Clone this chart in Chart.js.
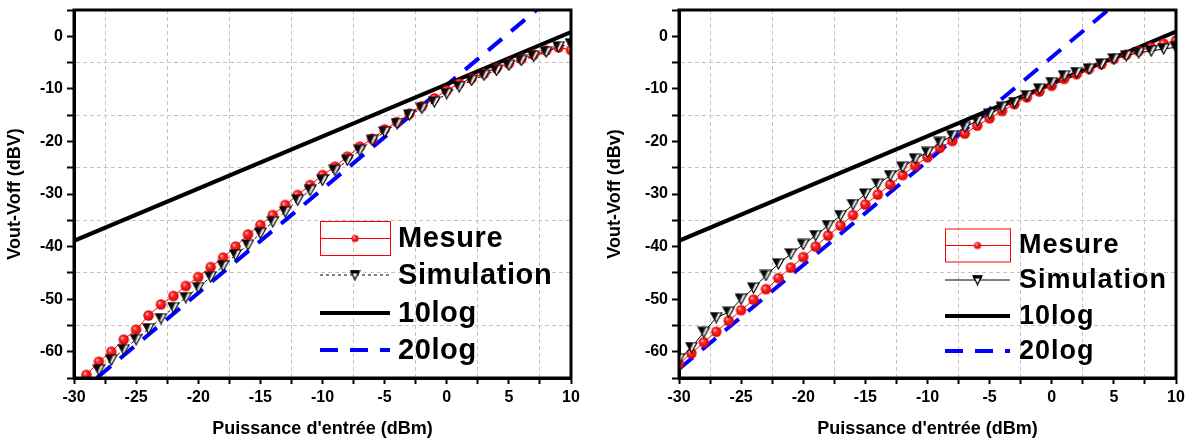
<!DOCTYPE html>
<html><head><meta charset="utf-8">
<script src="https://cdn.jsdelivr.net/npm/chart.js@4.4.1/dist/chart.umd.min.js"></script>
<style>
html,body{margin:0;padding:0;background:#fff;}
#wrap{position:relative;width:1192px;height:439px;background:#fff;overflow:hidden;}
.pane{position:absolute;top:0;height:439px;}
</style></head>
<body>
<div id="wrap">
  <div class="pane" style="left:0;width:600px"><canvas id="c1" width="600" height="439"></canvas></div>
  <div class="pane" style="left:600px;width:592px"><canvas id="c2" width="592" height="439"></canvas></div>
</div>
<script>
// ---------------- DATA ----------------
const xTickLabels = [-30, -25, -20, -15, -10, -5, 0, 5, 10];
const yTickLabels = [-60, -50, -40, -30, -20, -10, 0];

// Left chart
const L_measX = [-29,-28,-27,-26,-25,-24,-23,-22,-21,-20,-19,-18,-17,-16,-15,-14,-13,-12,-11,-10,-9,-8,-7,-6,-5,-4,-3,-2,-1,0,1,2,3,4,5,6,7,8,9,10];
const L_measY = [-64.4,-61.9,-60.0,-57.7,-55.8,-53.1,-51.0,-49.4,-47.5,-45.8,-43.9,-42.1,-40.0,-37.7,-35.9,-34.0,-32.1,-30.2,-28.3,-26.4,-24.8,-22.9,-21.0,-19.5,-17.7,-16.3,-14.7,-13.3,-11.8,-10.3,-9.0,-8.0,-7.1,-6.1,-5.2,-4.3,-3.5,-2.7,-2.1,-2.6];
const L_simX = [-28,-27,-26,-25,-24,-23,-22,-21,-20,-19,-18,-17,-16,-15,-14,-13,-12,-11,-10,-9,-8,-7,-6,-5,-4,-3,-2,-1,0,1,2,3,4,5,6,7,8,9,10];
const L_simY = [-63.5,-61.6,-59.6,-57.7,-55.6,-53.7,-51.6,-49.7,-47.8,-45.8,-43.7,-41.6,-39.7,-37.5,-35.3,-33.4,-31.2,-29.3,-27.4,-25.5,-23.6,-21.7,-19.8,-18.2,-16.6,-15.0,-13.7,-12.5,-10.9,-9.6,-8.4,-7.4,-6.5,-5.5,-4.6,-3.8,-3.0,-2.0,-1.4];
const L_10logX = [-30, 10];
const L_10logY = [-38.9, 0.8];
const L_20logX = [-30, 10];
const L_20logY = [-68.6, 10.5];

// Right chart
const R_measX = [-30,-29,-28,-27,-26,-25,-24,-23,-22,-21,-20,-19,-18,-17,-16,-15,-14,-13,-12,-11,-10,-9,-8,-7,-6,-5,-4,-3,-2,-1,0,1,2,3,4,5,6,7,8,9,10];
const R_measY = [-62.3,-60.3,-58.2,-56.2,-54.1,-52.1,-50.1,-48.1,-46.0,-44.0,-42.0,-40.0,-37.9,-36.0,-34.0,-32.0,-30.1,-28.2,-26.4,-24.6,-23.0,-21.2,-19.9,-18.5,-17.0,-15.6,-14.2,-12.9,-11.6,-10.5,-9.4,-8.1,-7.2,-6.2,-5.3,-4.3,-3.5,-2.8,-2.1,-1.4,-0.8];
const R_simX = [-30,-29,-28,-27,-26,-25,-24,-23,-22,-21,-20,-19,-18,-17,-16,-15,-14,-13,-12,-11,-10,-9,-8,-7,-6,-5,-4,-3,-2,-1,0,1,2,3,4,5,6,7,8,9,10];
const R_simY = [-61.4,-59.2,-56.3,-53.5,-52.5,-50.0,-47.9,-45.5,-43.3,-41.4,-39.6,-37.9,-36.0,-34.1,-32.0,-30.0,-28.1,-26.5,-24.9,-23.3,-22.1,-20.2,-18.9,-17.3,-16.1,-14.8,-13.5,-12.6,-11.3,-10.0,-8.8,-7.5,-6.9,-6.2,-5.3,-4.3,-3.7,-3.1,-2.8,-2.4,-2.1];
const R_10logX = [-30, 10];
const R_10logY = [-38.9, 0.9];
const R_20logX = [-30, 10];
const R_20logY = [-63.3, 15.8];

const labels = ['Mesure', 'Simulation', '10log', '20log'];

// ---------------- HELPERS ----------------
const pts = (xs, ys) => xs.map((x, i) => ({x: x, y: ys[i]}));
const FONT = '"Liberation Sans", Arial, Helvetica, sans-serif';

function makeCircle(r) {
  const s = Math.ceil(2 * r + 2);
  const c = document.createElement('canvas'); c.width = s; c.height = s;
  const g = c.getContext('2d');
  const grd = g.createRadialGradient(s/2 - r*0.35, s/2 - r*0.35, 0.3, s/2, s/2, r);
  grd.addColorStop(0, '#ffc0c0');
  grd.addColorStop(0.35, '#ff2a2a');
  grd.addColorStop(1, '#d80000');
  g.fillStyle = grd;
  g.beginPath(); g.arc(s/2, s/2, r, 0, Math.PI*2); g.fill();
  return c;
}
function makeTri(w, h) {
  const c = document.createElement('canvas'); c.width = w + 2; c.height = h + 2;
  const g = c.getContext('2d');
  const grd = g.createLinearGradient(1, 1, w + 1, h * 0.6);
  grd.addColorStop(0, '#000');
  grd.addColorStop(0.5, '#111');
  grd.addColorStop(0.66, '#fff');
  grd.addColorStop(1, '#fff');
  g.fillStyle = grd;
  g.beginPath(); g.moveTo(1, 1); g.lineTo(w + 1, 1); g.lineTo(w/2 + 1, h + 1); g.closePath();
  g.fill();
  g.lineWidth = 1.2; g.strokeStyle = '#000'; g.stroke();
  return c;
}
function makeLegTri(w, h) {
  const c = document.createElement('canvas'); c.width = w + 2; c.height = h + 2;
  const g = c.getContext('2d');
  g.fillStyle = '#fff';
  g.beginPath(); g.moveTo(1, 1); g.lineTo(w + 1, 1); g.lineTo(w/2 + 1, h + 1); g.closePath();
  g.fill();
  g.lineWidth = 1.3; g.strokeStyle = '#000'; g.stroke();
  g.fillStyle = '#000'; g.fillRect(1, 1, w, 3);
  return c;
}
const circleImg = makeCircle(5.2);
const triImg = makeTri(11, 10);
const legCircle = makeCircle(3.6);
const legTri = makeLegTri(9, 9);

const minorGrid = step => ctx => {
  const v = ctx.tick ? ctx.tick.value : null;
  if (v === null || v === undefined) return 'rgba(0,0,0,0)';
  const k = Math.round(v / step);
  return (Math.abs(k) % 2 === 1) ? '#c4c4c4' : 'rgba(0,0,0,0)';
};

const framePlugin = {
  id: 'frame',
  afterDraw(chart) {
    const {ctx, chartArea: a} = chart;
    ctx.save();
    ctx.lineWidth = 3; ctx.strokeStyle = '#000';
    ctx.strokeRect(a.left, a.top, a.right - a.left, a.bottom - a.top);
    ctx.restore();
  }
};

const legendPlugin = {
  id: 'ovLegend',
  afterDraw(chart, args, o) {
    if (!o || !o.rows) return;
    const ctx = chart.ctx;
    ctx.save();
    o.rows.forEach((row, i) => {
      const ds = chart.data.datasets.find(d => d.label === row);
      const y = o.ys[i];
      const x0 = o.x0, x1 = o.x0 + o.w, xm = (x0 + x1) / 2;
      if (i === 0) {
        ctx.strokeStyle = ds.borderColor; ctx.lineWidth = 1; ctx.setLineDash([]);
        ctx.strokeRect(x0 + 0.5, y - o.boxH/2 + 0.5, o.w, o.boxH);
        ctx.beginPath(); ctx.moveTo(x0, y + 0.5); ctx.lineTo(x1, y + 0.5); ctx.stroke();
        ctx.drawImage(legCircle, xm - legCircle.width/2, y - legCircle.height/2 + 0.5);
      } else {
        ctx.strokeStyle = ds.borderColor; ctx.lineWidth = ds.borderWidth;
        ctx.setLineDash(ds.borderDash || []);
        ctx.lineDashOffset = 0;
        ctx.beginPath(); ctx.moveTo(x0, y); ctx.lineTo(x1, y); ctx.stroke();
        ctx.setLineDash([]);
        if (i === 1) ctx.drawImage(legTri, xm - legTri.width/2, y - legTri.height/2);
      }
      ctx.fillStyle = '#000';
      ctx.font = 'bold ' + o.size + 'px ' + FONT;
      ctx.letterSpacing = o.spacing || '0px';
      ctx.textBaseline = 'middle'; ctx.textAlign = 'left';
      ctx.fillText(row, o.tx, y + 1);
    });
    ctx.restore();
  }
};

function build(canvasId, meas, sim, l10, l20, simDash, yTitle, geo, leg) {
  const datasets = [
    {label: labels[1], data: sim, borderColor: '#000', backgroundColor: '#000', borderWidth: 1,
     borderDash: simDash, pointStyle: triImg, pointRadius: 5, order: 0, showLine: true},
    {label: labels[0], data: meas, borderColor: '#ff0000', backgroundColor: '#ff0000', borderWidth: 1,
     pointStyle: circleImg, pointRadius: 5, order: 1, showLine: true},
    {label: labels[2], data: l10, borderColor: '#000', borderWidth: 4, pointRadius: 0, order: 2, showLine: true},
    {label: labels[3], data: l20, borderColor: '#0000ff', borderWidth: 4, borderDash: [18, 12],
     pointRadius: 0, order: 3, showLine: true}
  ];
  return new Chart(document.getElementById(canvasId), {
    type: 'scatter',
    data: {datasets},
    plugins: [framePlugin, legendPlugin],
    options: {
      responsive: false, animation: false, devicePixelRatio: 1,
      layout: {padding: {top: geo.top, right: geo.right, left: 0, bottom: 0}},
      elements: {line: {tension: 0}},
      plugins: {legend: {display: false}, tooltip: {enabled: false}, ovLegend: leg},
      scales: {
        x: {
          type: 'linear', min: -30, max: 10,
          afterFit: s => { s.height = geo.xh; s.paddingLeft = 0; s.paddingRight = 0; },
          ticks: {stepSize: 2.5, autoSkip: false, maxRotation: 0, color: '#000', padding: 4,
                  font: {family: FONT, size: 16, weight: 'bold'},
                  callback: v => (xTickLabels.includes(v) ? String(v) : '')},
          grid: {color: minorGrid(2.5), lineWidth: 1, borderDash: [4, 3], tickColor: '#000',
                 tickLength: 6, tickWidth: 2, drawTicks: true},
          border: {display: true, color: '#000', width: 3, dash: [4, 3]},
          title: {display: true, text: "Puissance d'entrée (dBm)", color: '#000',
                  font: {family: FONT, size: 18, weight: 'bold'}, padding: {top: 0, bottom: -1}}
        },
        y: {
          type: 'linear', min: -65, max: 5,
          afterFit: s => { s.width = geo.yw; s.paddingTop = 0; s.paddingBottom = 0; },
          ticks: {stepSize: 5, autoSkip: false, color: '#000', padding: 4,
                  font: {family: FONT, size: 16, weight: 'bold'},
                  callback: v => (yTickLabels.includes(v) ? String(v) : '')},
          grid: {color: minorGrid(5), lineWidth: 1, borderDash: [4, 3], tickColor: '#000',
                 tickLength: 7, tickWidth: 2, drawTicks: true},
          border: {display: true, color: '#000', width: 3, dash: [4, 3]},
          title: {display: true, text: yTitle, color: '#000',
                  font: {family: FONT, size: 18, weight: 'bold'}, padding: {top: 4, bottom: 0}}
        }
      }
    }
  });
}

build('c1', pts(L_measX, L_measY), pts(L_simX, L_simY), pts(L_10logX, L_10logY), pts(L_20logX, L_20logY),
  [3, 3], 'Vout-Voff (dBV)',
  {top: 10, right: 29, xh: 61, yw: 74},
  {rows: labels, x0: 320, w: 70, tx: 398, ys: [238, 275, 313, 350], boxH: 34, size: 29, spacing: '0.6px'});

build('c2', pts(R_measX, R_measY), pts(R_simX, R_simY), pts(R_10logX, R_10logY), pts(R_20logX, R_20logY),
  [], 'Vout-Voff (dBv)',
  {top: 10, right: 16, xh: 61, yw: 79},
  {rows: labels, x0: 345, w: 65, tx: 419, ys: [245, 280, 316, 351], boxH: 33, size: 27, spacing: '1px'});
</script>
</body></html>
